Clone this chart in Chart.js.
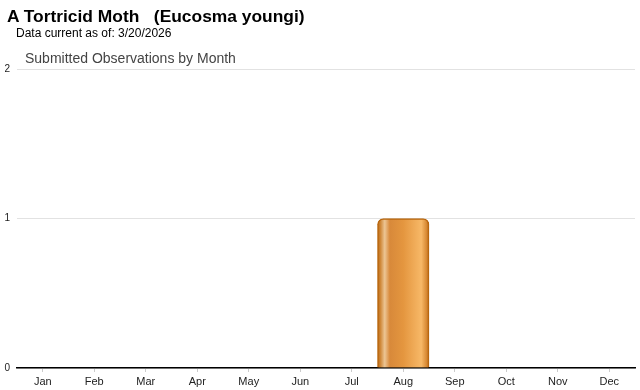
<!DOCTYPE html>
<html>
<head>
<meta charset="utf-8">
<script src="https://cdn.jsdelivr.net/npm/chart.js@4/dist/chart.umd.min.js"></script>
<style>
  body { margin: 0; background: #fff; font-family: Arial, "Liberation Sans", sans-serif; }
  #wrap { position: relative; width: 640px; height: 390px; }
  #title { position: absolute; left: 7px; top: 6px; font-size: 17.4px; font-weight: bold; color: #000; white-space: pre; }
  #sub { position: absolute; left: 16px; top: 26px; font-size: 12px; color: #000; }
  #ctitle { position: absolute; left: 25px; top: 50px; font-size: 14px; color: #444; }
  canvas { position: absolute; left: 0; top: 0; }
</style>
</head>
<body>
<div id="wrap">
  <canvas id="obsChart" width="640" height="390"></canvas>
  <div id="title">A Tortricid Moth   (Eucosma youngi)</div>
  <div id="sub">Data current as of: 3/20/2026</div>
  <div id="ctitle">Submitted Observations by Month</div>
</div>
<script>
const months = ["Jan", "Feb", "Mar", "Apr", "May", "Jun", "Jul", "Aug", "Sep", "Oct", "Nov", "Dec"];
const observations = [0, 0, 0, 0, 0, 0, 0, 1, 0, 0, 0, 0];
const yTicks = [0, 1, 2];

function barGradient(context) {
    const chart = context.chart;
    if (!chart.chartArea || context.dataIndex === undefined) return "#e0913a";
    const x = chart.scales.x.getPixelForValue(context.dataIndex);
    const half = chart.scales.x.width / months.length / 2;
    const g = chart.ctx.createLinearGradient(x - half, 0, x + half, 0);
    g.addColorStop(0, "#b9660f");
    g.addColorStop(0.06, "#d08a3c");
    g.addColorStop(0.14, "#ecc594");
    g.addColorStop(0.24, "#d8893a");
    g.addColorStop(0.5, "#e4963f");
    g.addColorStop(0.85, "#f7b867");
    g.addColorStop(0.95, "#d98b35");
    g.addColorStop(1, "#b5620b");
    return g;
}

const chart = new Chart(document.getElementById("obsChart"), {
    type: "bar",
    data: {
        labels: months,
        datasets: [{
            label: "Observations",
            data: observations,
            backgroundColor: barGradient,
            borderColor: "#b8660e",
            borderWidth: 1.5,
            borderRadius: 6,
            barPercentage: 1,
            categoryPercentage: 1
        }]
    },
    options: {
        responsive: false,
        animation: false,
        layout: { padding: { top: 69, right: 5, left: 0, bottom: 0 } },
        plugins: {
            legend: { display: false },
            tooltip: { enabled: false }
        },
        scales: {
            x: {
                afterFit: scale => { scale.height = 22; },
                grid: { display: true, drawOnChartArea: false, drawTicks: true, tickLength: 4, color: "#cccccc", offset: false },
                border: { display: true, color: "#000", width: 1.5 },
                ticks: { color: "#222", font: { family: "Arial", size: 11 }, padding: 3, maxRotation: 0 }
            },
            y: {
                min: 0,
                max: 2,
                afterBuildTicks: scale => { scale.ticks = yTicks.map(v => ({ value: v })); },
                afterFit: scale => { scale.width = 17; },
                grid: { color: "#e2e2e2", drawTicks: false },
                border: { display: false },
                ticks: { color: "#222", font: { family: "Arial", size: 10 }, padding: 7 }
            }
        }
    }
});
</script>
</body>
</html>
